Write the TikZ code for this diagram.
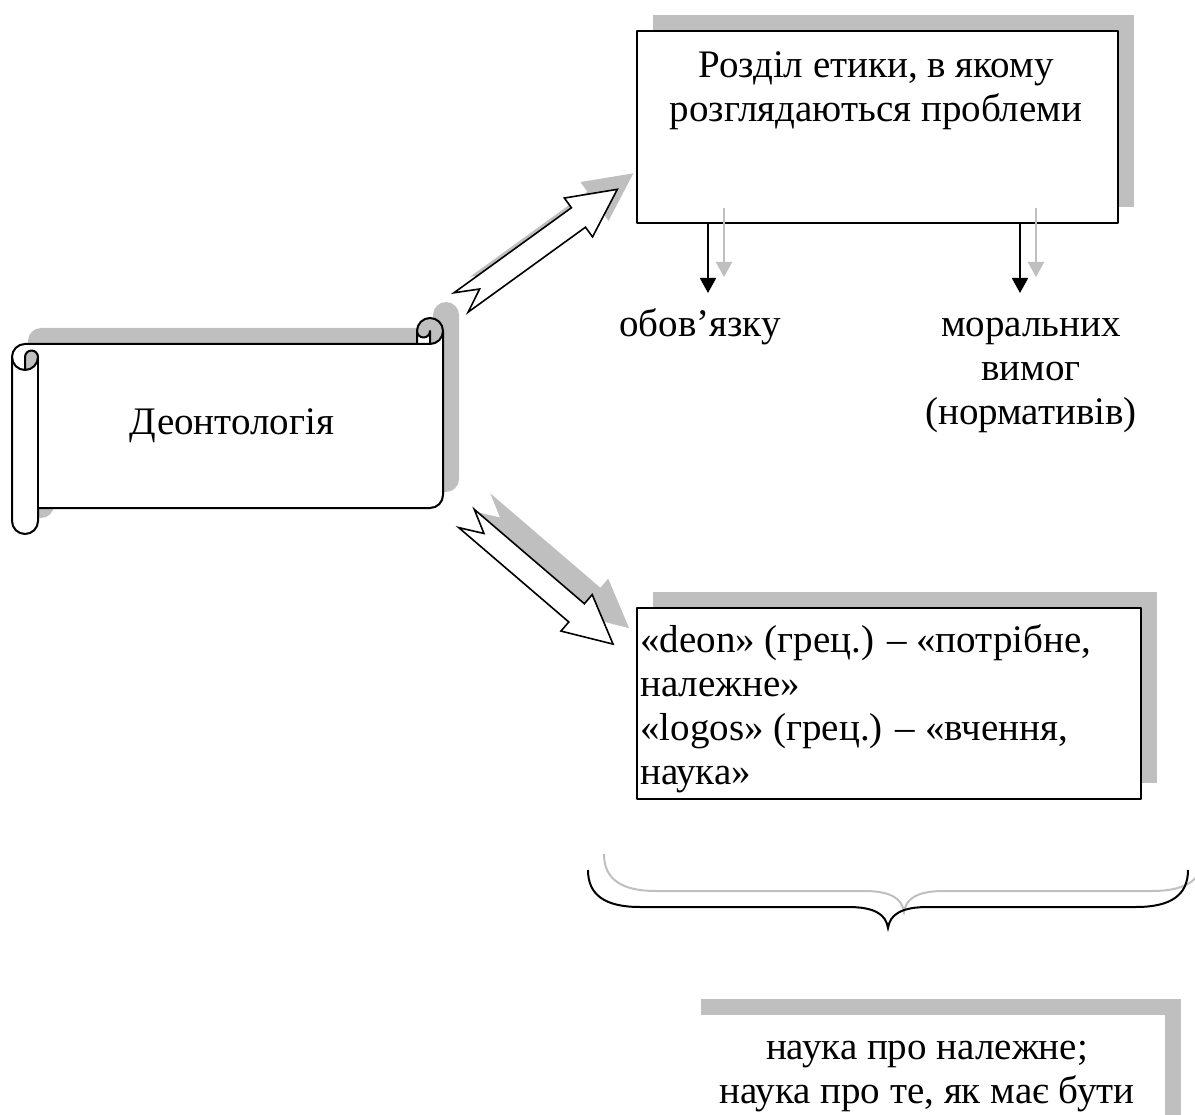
\documentclass[tikz,border=0pt]{standalone}
\usepackage{fontspec}
\setmainfont{Liberation Serif}
\usetikzlibrary{arrows.meta,calc}

\definecolor{shadowgray}{RGB}{191,191,191}
\newcommand\txtsize{\fontsize{39}{44}\selectfont}
\newcommand\scrollpath{(12,-357) arc[start angle=180,end angle=90,radius=13] -- (417,-344) -- (417,-331) arc[start angle=180,end angle=0,radius=13] -- (443,-495) arc[start angle=0,end angle=-90,radius=13] -- (38,-508) -- (38,-521) arc[start angle=0,end angle=-180,radius=13] -- cycle}
\newcommand\bracepath{(588,-870) .. controls (588,-895) and (605,-907) .. (640,-907) -- (848,-907) .. controls (874,-907) and (886,-914) .. (888,-928) .. controls (890,-914) and (902,-907) .. (928,-907) -- (1136,-907) .. controls (1171,-907) and (1188,-895) .. (1188,-870)}

\tikzset{
  outline/.style={draw=black, line width=2pt, line join=round},
  shadowed/.style={preaction={fill=shadowgray, transform canvas={shift={(16pt,16pt)}}}},
  box/.style={outline, fill=white, shadowed, rectangle, inner sep=0pt, anchor=north west},
  txt/.style={inner sep=0pt, font=\txtsize, align=center, anchor=north},
  arr/.style={line width=2pt, -{Triangle[width=16pt,length=15pt]}},
  pics/notcharrow/.style={code={
    \path[pic actions] (0,-12) -- (145,-12) -- (145,-24) -- (193,0) -- (145,24) -- (145,12) -- (0,12) -- (23,0) -- cycle;
  }},
}

\begin{document}
\begin{tikzpicture}[x=1pt, y=1pt]
\useasboundingbox (0,0) rectangle (1195,-1115);

\fill[white, shadowed] \scrollpath;
\fill[shadowgray] (417,-331) arc[start angle=180,end angle=-90,radius=13] -- (430,-331) arc[start angle=0,end angle=-180,radius=6.5] -- cycle;
\fill[shadowgray] (25,-370) arc[start angle=-90,end angle=0,radius=13] arc[start angle=0,end angle=180,radius=6.5] -- cycle;
\draw[outline] \scrollpath;
\draw[outline] (417,-344) -- (430,-344) arc[start angle=-90,end angle=0,radius=13];
\draw[outline] (430,-344) -- (430,-331) arc[start angle=0,end angle=-180,radius=6.5];
\draw[outline] (25,-370) -- (25,-357) arc[start angle=180,end angle=0,radius=6.5] arc[start angle=0,end angle=-180,radius=13];
\draw[outline] (38,-357) -- (38,-508);
\node[txt] (deontologia) at (232,-403.2) {\strut Деонтологія};

\node[box, minimum width=481pt, minimum height=192pt] (razdil) at (636,-30) {};
\node[txt] (razdiltxt) at (876,-46.2) {\strut Розділ етики, в якому\\розглядаються проблеми};

\node[txt] (obov) at (700,-305.2) {\strut обов’язку};
\node[txt] (moral) at (1031,-305.2) {\strut моральних\\вимог\\(нормативів)};
\coordinate (obovend) at (708,-293);
\coordinate (moralend) at (1020,-293);
\foreach \e in {obovend, moralend} {
  \draw[arr, shadowgray] ($(razdil.south -| \e)+(16,16)$) -- ($(\e)+(16,16)$);
  \draw[arr] (razdil.south -| \e) -- (\e);
}

\coordinate (uptail) at (461,-302.5);
\coordinate (downtail) at (466.5,-518.5);
\pic[fill=shadowgray, rotate=35.9] at ($(uptail)+(16,16)$) {notcharrow};
\pic[draw=black, line width=1.6pt, fill=white, rotate=35.9] at (uptail) {notcharrow};
\pic[fill=shadowgray, rotate=-40.6] at ($(downtail)+(16,16)$) {notcharrow};
\pic[draw=black, line width=1.6pt, fill=white, rotate=-40.6] at (downtail) {notcharrow};

\node[box, minimum width=504pt, minimum height=191pt] (etym) at (636,-607) {};
\node[txt, align=left, anchor=north west] (etymtxt) at (640,-621.2) {\strut«deon» (грец.) – «потрібне,\\належне»\\«logos» (грец.) – «вчення,\\наука»};

\draw[shadowgray, line width=2pt, shift={(16,16)}] \bracepath;
\draw[line width=2pt] \bracepath;

\node[box, draw=none, minimum width=480pt, minimum height=120pt] (nauka) at (684,-1014) {};
\node[txt] (naukatxt) at (927,-1028.2) {\strut наука про належне;\\наука про те, як має бути};
\end{tikzpicture}
\end{document}
